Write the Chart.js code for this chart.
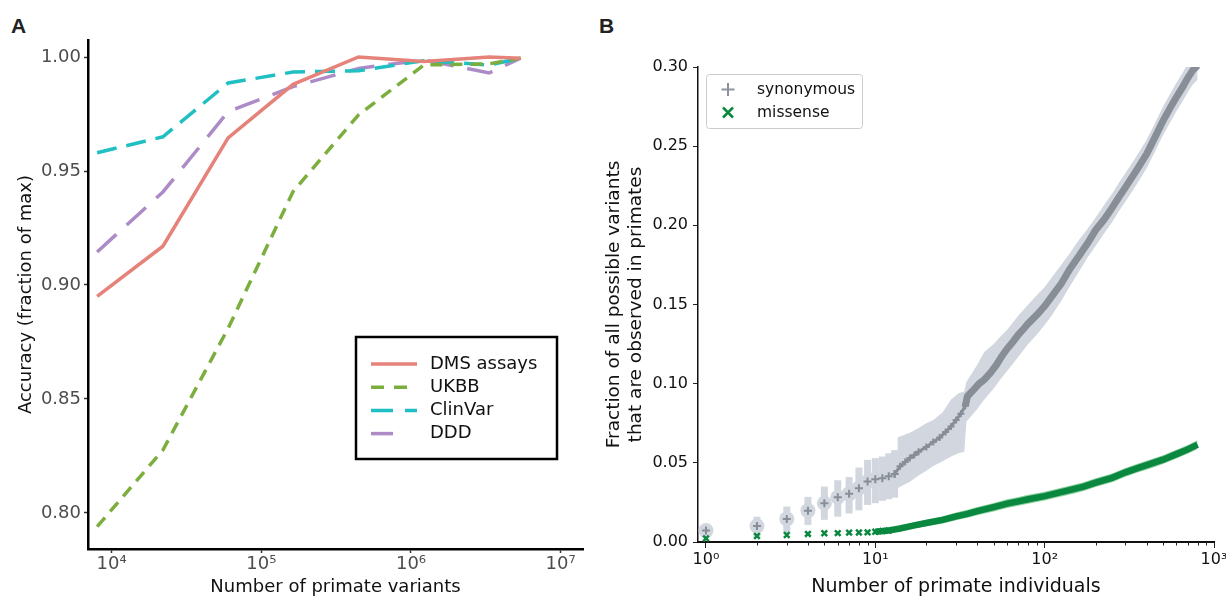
<!DOCTYPE html>
<html>
<head>
<meta charset="utf-8">
<script src="https://cdn.jsdelivr.net/npm/chart.js@4.4.1/dist/chart.umd.min.js"></script>
<style>
  body { margin: 0; background: #fff; width: 1226px; height: 600px; position: relative; overflow: hidden; }
  canvas { position: absolute; top: 0; }
  #chartA { left: 0; }
  #chartB { left: 600px; }
  .panel { position: absolute; top: 14px; line-height: 1; font: bold 21px "Liberation Sans", Arial, sans-serif; color: #222; }
</style>
</head>
<body>
<div class="panel" style="left:11px">A</div>
<div class="panel" style="left:599px">B</div>
<canvas id="chartA" width="600" height="600"></canvas>
<canvas id="chartB" width="626" height="600"></canvas>
<script>
// ---- panel A: accuracy vs number of primate variants
const variantCounts = [8000, 22000, 60000, 163000, 446000, 1220000, 3330000, 5400000]
const dmsAccuracy = [0.895, 0.917, 0.9645, 0.988, 1.000, 0.998, 1.000, 0.9995]
const ukbbAccuracy = [0.794, 0.8276, 0.881, 0.941, 0.9746, 0.9965, 0.997, 0.9995]
const clinvarAccuracy = [0.958, 0.965, 0.9886, 0.9934, 0.994, 0.9984, 0.9965, 0.9995]
const dddAccuracy = [0.9145, 0.9408, 0.976, 0.987, 0.995, 0.9987, 0.993, 0.9995]
const seriesNamesA = ['DMS assays', 'UKBB', 'ClinVar', 'DDD']
const xTicksA = [1e4, 1e5, 1e6, 1e7]
const xTickLabelsA = ['10⁴', '10⁵', '10⁶', '10⁷']
const yTicksA = [0.80, 0.85, 0.90, 0.95, 1.00]

// ---- panel B: fraction of possible variants observed vs primate individuals
const synPointN = [1, 2, 3, 4, 5, 6, 7, 8, 9, 10, 11, 12, 13]
const synPointY = [0.0072, 0.0101, 0.0146, 0.0198, 0.0245, 0.0283, 0.0304, 0.034, 0.0382, 0.0397, 0.0403, 0.0415, 0.043]
const synErrLo = [0.0055, 0.0034, 0.0055, 0.0108, 0.014, 0.016, 0.018, 0.020, 0.0234, 0.0245, 0.026, 0.027, 0.028]
const synErrHi = [0.0090, 0.016, 0.0224, 0.0285, 0.035, 0.039, 0.041, 0.047, 0.0519, 0.053, 0.054, 0.056, 0.058]
const synMidN = [13, 14, 15, 16, 17, 18, 20, 22, 24, 26, 28, 30, 32, 34]
const synMidY = [0.043, 0.0478, 0.0505, 0.053, 0.055, 0.057, 0.060, 0.0632, 0.066, 0.0695, 0.073, 0.077, 0.081, 0.086]
const synHighN = [34, 35, 38, 41, 44, 48, 52, 56, 60, 65, 70, 75, 80, 90, 100, 110, 125, 140, 160, 180, 200, 225, 250, 275, 300, 350, 400, 450, 500, 550, 600, 650, 700, 750, 800]
const synHighY = [0.086, 0.092, 0.096, 0.100, 0.1025, 0.107, 0.112, 0.1175, 0.122, 0.1265, 0.131, 0.1345, 0.138, 0.1435, 0.149, 0.155, 0.163, 0.172, 0.181, 0.189, 0.197, 0.2038, 0.211, 0.218, 0.224, 0.235, 0.245, 0.256, 0.266, 0.274, 0.281, 0.287, 0.293, 0.298, 0.301]
const synBandN = [13.5, 16, 18, 20, 22, 25, 28, 31, 33.5, 34.5, 40, 44, 50, 55, 60, 70, 80, 90, 100, 110, 125, 140, 160, 180, 200, 225, 250, 275, 300, 350, 400, 450, 500, 550, 600, 650, 700, 750, 800]
const synBandLo = [0.034, 0.038, 0.042, 0.045, 0.048, 0.051, 0.054, 0.056, 0.057, 0.076, 0.084, 0.090, 0.097, 0.103, 0.108, 0.117, 0.125, 0.131, 0.137, 0.143, 0.152, 0.161, 0.171, 0.180, 0.187, 0.195, 0.202, 0.209, 0.215, 0.226, 0.236, 0.247, 0.257, 0.265, 0.272, 0.278, 0.284, 0.289, 0.292]
const synBandHi = [0.066, 0.069, 0.072, 0.075, 0.077, 0.082, 0.090, 0.094, 0.095, 0.101, 0.112, 0.120, 0.125, 0.130, 0.134, 0.143, 0.150, 0.156, 0.161, 0.167, 0.175, 0.182, 0.191, 0.198, 0.205, 0.213, 0.220, 0.227, 0.233, 0.244, 0.254, 0.265, 0.275, 0.283, 0.290, 0.296, 0.302, 0.307, 0.310]
const misPointN = [1, 2, 3, 4, 5, 6, 7, 8, 9, 10, 11, 12]
const misPointY = [0.0023, 0.0038, 0.0044, 0.0051, 0.0055, 0.0056, 0.0059, 0.006, 0.0061, 0.0065, 0.0069, 0.0073]
const misLineN = [10, 12, 14, 17, 20, 25, 30, 35, 40, 50, 60, 70, 80, 100, 120, 150, 170, 200, 250, 300, 350, 400, 500, 600, 700, 800]
const misLineY = [0.0065, 0.0073, 0.0085, 0.0105, 0.012, 0.014, 0.0162, 0.0178, 0.0195, 0.022, 0.0242, 0.0257, 0.027, 0.029, 0.031, 0.0335, 0.035, 0.0375, 0.0405, 0.044, 0.0465, 0.0485, 0.052, 0.0555, 0.0585, 0.0615]
const misBandLo = [0.0050, 0.0057, 0.0067, 0.0085, 0.0099, 0.0117, 0.0138, 0.0153, 0.0169, 0.0193, 0.0214, 0.0229, 0.0242, 0.0262, 0.0282, 0.0307, 0.0322, 0.0347, 0.0377, 0.0412, 0.0437, 0.0457, 0.0492, 0.0527, 0.0557, 0.0587]
const misBandHi = [0.0080, 0.0089, 0.0103, 0.0125, 0.0141, 0.0163, 0.0186, 0.0203, 0.0221, 0.0247, 0.0270, 0.0285, 0.0298, 0.0318, 0.0338, 0.0363, 0.0378, 0.0403, 0.0433, 0.0468, 0.0493, 0.0513, 0.0548, 0.0583, 0.0613, 0.0643]
const seriesNamesB = ['synonymous', 'missense']
const xTicksB = [1, 10, 100, 1000]
const xTickLabelsB = ['10⁰', '10¹', '10²', '10³']
const yTicksB = [0, 0.05, 0.10, 0.15, 0.20, 0.25, 0.30]

Chart.defaults.font.family = 'DejaVu Sans'

const pts = (xs, ys) => xs.map((x, i) => ({ x: x, y: ys[i] }))

// colours
const dmsColor = '#e5827a', ukbbColor = '#7cae3e', clinvarColor = '#1fbfc3', dddColor = '#ad8bc6'
const synDark = '#878e96', synLight = '#d2d6de'
const misDark = '#0a8840', misLight = '#8fd3a0'

// dash patterns used in the plot and in the boxed legend
const dashesA = [[], [12, 8], [20, 10], [26, 14]]
const legendDashesA = [[], [13, 10], [22, 12], [22, 40]]
const colorsA = [dmsColor, ukbbColor, clinvarColor, dddColor]

const legendA = {
    id: 'legendA',
    afterDraw(chart) {
        const ctx = chart.ctx
        ctx.save()
        ctx.lineWidth = 2.5
        ctx.strokeStyle = '#000'
        ctx.strokeRect(356, 337, 201, 122)
        ctx.font = '18px "DejaVu Sans"'
        ctx.textBaseline = 'middle'
        seriesNamesA.forEach((name, i) => {
            const y = 364 + i * 23.2
            ctx.beginPath()
            ctx.lineWidth = 3.5
            ctx.strokeStyle = colorsA[i]
            ctx.setLineDash(legendDashesA[i])
            ctx.moveTo(371, y)
            ctx.lineTo(417, y)
            ctx.stroke()
            ctx.setLineDash([])
            ctx.fillStyle = '#111'
            ctx.fillText(name, 430, y)
        })
        ctx.restore()
    }
}

new Chart(document.getElementById('chartA'), {
    type: 'line',
    data: {
        datasets: [dmsAccuracy, ukbbAccuracy, clinvarAccuracy, dddAccuracy].map((vals, i) => ({
            label: seriesNamesA[i],
            data: pts(variantCounts, vals),
            borderColor: colorsA[i],
            borderWidth: 3.5,
            borderDash: dashesA[i],
            pointRadius: 0,
            tension: 0,
            fill: false
        }))
    },
    options: {
        responsive: false,
        animation: false,
        layout: { padding: { left: 12, top: 40, right: 17, bottom: 0 } },
        plugins: { legend: { display: false }, tooltip: { enabled: false } },
        scales: {
            x: {
                type: 'logarithmic',
                min: 6950,
                max: 1.41e7,
                afterBuildTicks: s => { s.ticks = xTicksA.map(v => ({ value: v })) },
                afterFit: s => { s.height = 51; s.paddingLeft = 0; s.paddingRight = 0 },
                grid: { drawOnChartArea: false, tickLength: 4, tickColor: '#333', tickWidth: 1.5 },
                border: { color: '#000', width: 2.5 },
                ticks: {
                    callback: v => xTickLabelsA[xTicksA.indexOf(v)],
                    color: '#4d4d4d',
                    font: { size: 18 },
                    padding: 1,
                    maxRotation: 0,
                    autoSkip: false
                },
                title: { display: true, text: 'Number of primate variants', color: '#111', font: { size: 18 }, padding: { top: 0, bottom: 2 } }
            },
            y: {
                min: 0.7842,
                max: 1.00746,
                afterBuildTicks: s => { s.ticks = yTicksA.map(v => ({ value: v })) },
                afterFit: s => { s.width = 76; s.paddingTop = 0; s.paddingBottom = 0 },
                grid: { drawOnChartArea: false, tickLength: 4, tickColor: '#333', tickWidth: 1.5 },
                border: { color: '#000', width: 2.5 },
                ticks: { callback: v => v.toFixed(2), color: '#4d4d4d', font: { size: 18 }, padding: 3 },
                title: { display: true, text: 'Accuracy (fraction of max)', color: '#111', font: { size: 18 }, padding: { top: 4, bottom: 0 } }
            }
        }
    },
    plugins: [legendA]
})

// vertical error bars for the first few synonymous points
const errorBarsB = {
    id: 'errorBarsB',
    beforeDatasetsDraw(chart) {
        const { ctx, scales: { x, y } } = chart
        ctx.save()
        ctx.strokeStyle = synLight
        ctx.lineWidth = 7
        synPointN.forEach((n, i) => {
            const px = x.getPixelForValue(n)
            ctx.beginPath()
            ctx.moveTo(px, y.getPixelForValue(synErrLo[i]))
            ctx.lineTo(px, y.getPixelForValue(synErrHi[i]))
            ctx.stroke()
        })
        ctx.restore()
    }
}

// short minor ticks on the log axis
const minorTicksB = {
    id: 'minorTicksB',
    afterDraw(chart) {
        const { ctx, scales: { x } } = chart
        ctx.save()
        ctx.strokeStyle = '#222'
        ctx.lineWidth = 1
        xTicksB.slice(0, -1).forEach(dec => {
            for (let m = 2; m <= 9; m++) {
                const px = Math.round(x.getPixelForValue(dec * m)) + 0.5
                ctx.beginPath()
                ctx.moveTo(px, x.top)
                ctx.lineTo(px, x.top + 3.5)
                ctx.stroke()
            }
        })
        ctx.restore()
    }
}

const legendB = {
    id: 'legendB',
    afterDraw(chart) {
        const ctx = chart.ctx
        ctx.save()
        ctx.fillStyle = 'rgba(255,255,255,0.85)'
        ctx.strokeStyle = '#cccccc'
        ctx.lineWidth = 1
        ctx.beginPath()
        ctx.roundRect(106.5, 74.5, 156, 54, 3)
        ctx.fill()
        ctx.stroke()
        // "+" marker
        ctx.strokeStyle = '#8c939b'
        ctx.lineWidth = 2
        ctx.beginPath()
        ctx.moveTo(121.5, 89.5); ctx.lineTo(134.5, 89.5)
        ctx.moveTo(128, 83); ctx.lineTo(128, 96)
        ctx.stroke()
        // "x" marker
        ctx.strokeStyle = misDark
        ctx.lineWidth = 2.5
        ctx.beginPath()
        ctx.moveTo(123, 107.5); ctx.lineTo(133, 117.5)
        ctx.moveTo(133, 107.5); ctx.lineTo(123, 117.5)
        ctx.stroke()
        ctx.fillStyle = '#111'
        ctx.font = '15.5px "DejaVu Sans"'
        ctx.textBaseline = 'middle'
        ctx.fillText(seriesNamesB[0], 157, 90)
        ctx.fillText(seriesNamesB[1], 157, 113)
        ctx.restore()
    }
}

new Chart(document.getElementById('chartB'), {
    type: 'scatter',
    data: {
        datasets: [
            { label: 'missense', data: pts(misPointN, misPointY), pointStyle: 'crossRot', radius: 4, borderWidth: 2.5, borderColor: misDark, order: 0 },
            { label: 'missense line', data: pts(misLineN, misLineY), showLine: true, pointRadius: 0, borderWidth: 6.5, borderColor: misDark, order: 1 },
            { label: 'missense hi', data: pts(misLineN, misBandHi), showLine: true, pointRadius: 0, borderWidth: 0, backgroundColor: misLight, fill: '+1', order: 2 },
            { label: 'missense lo', data: pts(misLineN, misBandLo), showLine: true, pointRadius: 0, borderWidth: 0, fill: false, order: 3 },
            { label: 'synonymous', data: pts(synPointN, synPointY), pointStyle: 'cross', radius: 4, borderWidth: 2, borderColor: synDark, order: 4 },
            { label: 'synonymous mid', data: pts(synMidN, synMidY), showLine: true, pointStyle: 'cross', pointRadius: 3.5, pointBorderWidth: 2, borderWidth: 3, borderColor: synDark, order: 5 },
            { label: 'synonymous high', data: pts(synHighN, synHighY), showLine: true, pointRadius: 0, borderWidth: 7, borderColor: synDark, order: 6 },
            { label: 'synonymous circles', data: pts(synPointN, synPointY), pointStyle: 'circle', radius: 7.5, borderWidth: 0, backgroundColor: synLight, order: 7 },
            { label: 'synonymous hi', data: pts(synBandN, synBandHi), showLine: true, pointRadius: 0, borderWidth: 0, backgroundColor: synLight, fill: '+1', order: 8 },
            { label: 'synonymous lo', data: pts(synBandN, synBandLo), showLine: true, pointRadius: 0, borderWidth: 0, fill: false, order: 9 }
        ]
    },
    options: {
        responsive: false,
        animation: false,
        layout: { padding: { left: 0, top: 67, right: 12, bottom: 0 } },
        plugins: { legend: { display: false }, tooltip: { enabled: false } },
        scales: {
            x: {
                type: 'logarithmic',
                min: 0.897,
                max: 1000,
                afterBuildTicks: s => { s.ticks = xTicksB.map(v => ({ value: v })) },
                afterFit: s => { s.height = 58; s.paddingLeft = 0; s.paddingRight = 0 },
                grid: { drawOnChartArea: false, tickLength: 6, tickColor: '#222', tickWidth: 1 },
                border: { color: '#111', width: 2 },
                ticks: {
                    callback: v => xTickLabelsB[xTicksB.indexOf(v)],
                    color: '#111',
                    font: { size: 16 },
                    padding: 2,
                    maxRotation: 0,
                    autoSkip: false
                },
                title: { display: true, text: 'Number of primate individuals', color: '#111', font: { size: 19 }, padding: { top: 0, bottom: 2 } }
            },
            y: {
                min: 0,
                max: 0.30,
                afterBuildTicks: s => { s.ticks = yTicksB.map(v => ({ value: v })) },
                afterFit: s => { s.width = 98; s.paddingTop = 0; s.paddingBottom = 0 },
                grid: { drawOnChartArea: false, tickLength: 5, tickColor: '#222', tickWidth: 1 },
                border: { color: '#111', width: 1.5 },
                ticks: { callback: v => v.toFixed(2), color: '#111', font: { size: 16 }, padding: 5 },
                title: {
                    display: true,
                    text: ['Fraction of all possible variants', 'that are observed in primates'],
                    color: '#111',
                    font: { size: 18.5 },
                    padding: { top: 3, bottom: 0 }
                }
            }
        }
    },
    plugins: [errorBarsB, minorTicksB, legendB]
})
</script>
</body>
</html>
